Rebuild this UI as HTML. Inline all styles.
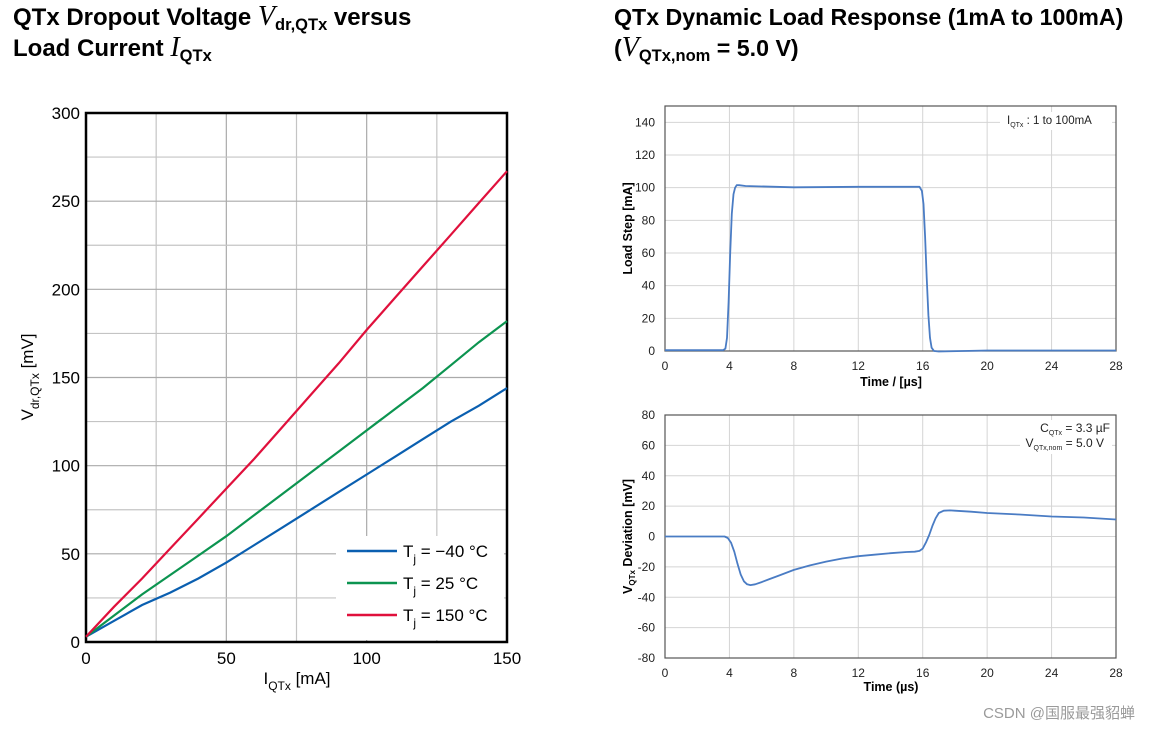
<!DOCTYPE html>
<html><head><meta charset="utf-8"><style>
html,body{margin:0;padding:0;background:#fff;}
svg{display:block;font-family:"Liberation Sans",Arial,sans-serif;}
</style></head><body>
<svg id="svg" width="1150" height="730" viewBox="0 0 1150 730" xmlns="http://www.w3.org/2000/svg">
<g font-weight="bold" font-size="24" fill="#000">
<text x="13" y="25">QTx Dropout Voltage <tspan font-family="Liberation Serif" font-style="italic" font-weight="normal" font-size="28">V</tspan><tspan font-size="16.5" dy="5">dr,QTx</tspan><tspan dy="-5"> versus</tspan></text>
<text x="13" y="56">Load Current <tspan font-family="Liberation Serif" font-style="italic" font-weight="normal" font-size="28">I</tspan><tspan font-size="16.5" dy="5">QTx</tspan></text>
</g>
<g font-weight="bold" font-size="23.2" fill="#000">
<text x="614" y="25">QTx Dynamic Load Response (1mA to 100mA)</text>
<text x="614" y="56">(<tspan font-family="Liberation Serif" font-style="italic" font-weight="normal" font-size="28">V</tspan><tspan font-size="16.5" dy="5">QTx,nom</tspan><tspan dy="-5"> = 5.0 V)</tspan></text>
</g>
<g id="left"></g>
<g id="rt"></g>
<g id="rb"></g>
<text x="1135" y="718" text-anchor="end" font-size="15" fill="#9a9a9a" font-family="Liberation Sans, Noto Sans CJK SC, sans-serif">CSDN @国服最强貂蝉</text>
</svg>
<script>
const ns="http://www.w3.org/2000/svg";
// Left chart data
const leftX=[0,10,20,30,40,50,60,70,80,90,100,110,120,130,140,150];
const blueY=[3,12,21,28,36,45,55,65,75,85,95,105,115,125,134,144];
const greenY=[3,15,27,38,49,60,72,84,96,108,120,132,144,157,170,182];
const redY=[3,20,36,53,70,87,104,122,140,158,177,195,213,231,249,267];
const leftXTicks=[0,50,100,150];
const leftYTicks=[0,50,100,150,200,250,300];
// Right top data
const stepT=[0,3.6,3.75,3.85,3.95,4.05,4.15,4.25,4.35,4.45,4.6,5,8,12,15.8,15.95,16.05,16.15,16.25,16.35,16.45,16.55,16.7,17,20,28];
const stepI=[0.5,0.5,1.5,8,30,60,84,96,100,101.5,101.5,101,100.2,100.5,100.5,98,90,70,45,22,8,2,0,-0.3,0.3,0.3];
// Right bottom data
const devT=[0,3.7,3.9,4.1,4.3,4.5,4.7,4.9,5.1,5.3,5.6,6,6.5,7,8,9,10,11,12,13,14,15,15.5,15.8,16,16.2,16.4,16.6,16.8,17,17.3,17.7,18,19,20,22,24,26,28];
const devV=[0,0,-1,-4,-10,-18,-25,-29.5,-31.5,-32,-31.5,-30,-28,-26,-22,-19,-16.5,-14.5,-13,-12,-11,-10.2,-10,-9.5,-8,-4,1,7,12,15.5,17,17.2,17,16.3,15.5,14.5,13.2,12.5,11.2];
const timeTicks=[0,4,8,12,16,20,24,28];
const stepTicks=[0,20,40,60,80,100,120,140];
const devTicks=[-80,-60,-40,-20,0,20,40,60,80];

function mk(p,tag,a){const e=document.createElementNS(ns,tag);for(const k in a)e.setAttribute(k,a[k]);p.appendChild(e);return e;}
function path(xs,ys,sx,sy){return xs.map((v,i)=>(i?'L':'M')+sx(v).toFixed(1)+','+sy(ys[i]).toFixed(1)).join('');}

// LEFT
const L=document.getElementById('left');
const lx=v=>86+v/150*421, ly=v=>642-v/300*529;
for(let v=25;v<150;v+=25){const e=mk(L,'line',{x1:lx(v),x2:lx(v),y1:ly(0),y2:ly(300),stroke:v%50?'#c4c4c4':'#aaaaaa','stroke-width':1.2});
}
for(let v=25;v<300;v+=25){const e=mk(L,'line',{x1:lx(0),x2:lx(150),y1:ly(v),y2:ly(v),stroke:v%50?'#c4c4c4':'#aaaaaa','stroke-width':1.2});
}
const lf=mk(L,'rect',{x:lx(0),y:ly(300),width:lx(150)-lx(0),height:ly(0)-ly(300),fill:'none',stroke:'#000','stroke-width':2.5});

leftXTicks.forEach(v=>{const t=mk(L,'text',{x:lx(v),y:664,'text-anchor':'middle','font-size':17});t.textContent=v;
});
leftYTicks.forEach(v=>{const t=mk(L,'text',{x:80,y:ly(v)+6,'text-anchor':'end','font-size':17});t.textContent=v;
});
const lgb=mk(L,'rect',{x:336,y:536,width:168,height:104,fill:'#fff'});

[[blueY,'#0a5fb0','−40 °C'],[greenY,'#0c9450','25 °C'],[redY,'#e0103c','150 °C']].forEach((s,i)=>{
const p=mk(L,'path',{d:path(leftX,s[0],lx,ly),fill:'none',stroke:s[1],'stroke-width':2.2});

const y=551+i*32;
const ll=mk(L,'line',{x1:347,x2:397,y1:y,y2:y,stroke:s[1],'stroke-width':2.5});

const t=mk(L,'text',{x:403,y:y+6,'font-size':17});
t.innerHTML='T<tspan font-size="12" dy="6">j</tspan><tspan dy="-6"> = '+s[2]+'</tspan>';
});
const xt=mk(L,'text',{x:297,y:684,'text-anchor':'middle','font-size':17});
xt.innerHTML='I<tspan font-size="12" dy="6">QTx</tspan><tspan dy="-6"> [mA]</tspan>';

const yt=mk(L,'text',{x:0,y:0,'text-anchor':'middle','font-size':17,transform:'translate(33,377) rotate(-90)'});
yt.innerHTML='V<tspan font-size="12" dy="6">dr,QTx</tspan><tspan dy="-6"> [mV]</tspan>';


// RIGHT helper
function rchart(G,top,bot,ymin,ymax,ticks,xs,ys,ytitle,xtitle,xtY){
 const sx=v=>665+v/28*451, sy=v=>bot-(v-ymin)/(ymax-ymin)*(bot-top);
 timeTicks.forEach(v=>{if(v>0&&v<28){const e=mk(G,'line',{x1:sx(v),x2:sx(v),y1:top,y2:bot,stroke:'#d4d4d4','stroke-width':1});
 }
 const t=mk(G,'text',{x:sx(v),y:bot+19,'text-anchor':'middle','font-size':12,fill:'#222'});t.textContent=v;
 });
 ticks.forEach(v=>{const e=mk(G,'line',{x1:665,x2:1116,y1:sy(v),y2:sy(v),stroke:'#d4d4d4','stroke-width':1});
 
 const t=mk(G,'text',{x:655,y:sy(v)+4,'text-anchor':'end','font-size':12,fill:'#222'});t.textContent=v;
 });
 const f=mk(G,'rect',{x:665,y:top,width:451,height:bot-top,fill:'none',stroke:'#555','stroke-width':1.2});
 
 const p=mk(G,'path',{d:path(xs,ys,sx,sy),fill:'none',stroke:'#4a7cc4','stroke-width':1.8,'stroke-linejoin':'round'});
 
 const x=mk(G,'text',{x:891,y:xtY,'text-anchor':'middle','font-size':12.5,'font-weight':'bold'});x.innerHTML=xtitle;
 
 const y=mk(G,'text',{x:0,y:0,'text-anchor':'middle','font-size':12.5,'font-weight':'bold',transform:'translate(632,'+((top+bot)/2)+') rotate(-90)'});y.innerHTML=ytitle;
 
 return {sx,sy};
}
const RT=document.getElementById('rt');
rchart(RT,106,351,0,150,stepTicks,stepT,stepI,'Load Step  [mA]','Time / [µs]',386);
const a1=mk(RT,'rect',{x:1000,y:112,width:112,height:18,fill:'#fff'});
const n1=mk(RT,'text',{x:1007,y:124,'font-size':11.5,fill:'#222'});n1.innerHTML='I<tspan font-size="7" dy="3">QTx</tspan><tspan dy="-3"> :  1 to 100mA</tspan>';

const RB=document.getElementById('rb');
rchart(RB,415,658,-80,80,devTicks,devT,devV,'V<tspan font-size="8" dy="3">QTx</tspan><tspan dy="-3"> Deviation  [mV]</tspan>','Time (µs)',691);
const a2=mk(RB,'rect',{x:1020,y:420,width:92,height:34,fill:'#fff'});
const n2=mk(RB,'text',{x:1110,y:432,'text-anchor':'end','font-size':12,fill:'#222'});n2.innerHTML='C<tspan font-size="7" dy="3">QTx</tspan><tspan dy="-3"> = 3.3 µF</tspan>';

const n3=mk(RB,'text',{x:1104,y:447,'text-anchor':'end','font-size':12,fill:'#222'});n3.innerHTML='V<tspan font-size="7" dy="3">QTx,nom</tspan><tspan dy="-3"> = 5.0 V</tspan>';

</script>
</body></html>
